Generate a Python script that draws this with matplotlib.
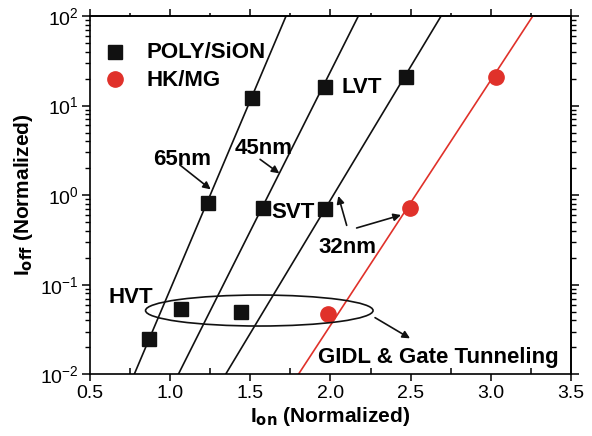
import matplotlib
matplotlib.use("Agg")
import matplotlib.pyplot as plt
from matplotlib.patches import Ellipse
import numpy as np

plt.rcParams['font.family'] = ['Liberation Sans', 'DejaVu Sans']
plt.rcParams['mathtext.default'] = 'regular'

# Measured devices
poly_ion = [0.87, 1.068, 1.44, 1.234, 1.509, 1.581, 1.966, 2.469, 1.966]
poly_ioff = [0.0248, 0.0533, 0.050, 0.81, 12.1, 0.71, 16.0, 21.0, 0.70]
hkmg_ion = [1.983, 2.496, 3.031]
hkmg_ioff = [0.047, 0.71, 20.7]

# Ion-Ioff trend lines (Ion at Ioff = 1e-2 and 1e2)
trend_ioff = [1e-2, 1e2]
trend_65nm = [0.776, 1.723]
trend_45nm = [1.051, 2.174]
trend_32nm = [1.346, 2.690]
trend_hkmg = [1.800, 3.262]

x_ticks = [0.5, 1.0, 1.5, 2.0, 2.5, 3.0, 3.5]
x_tick_labels = ['0.5', '1.0', '1.5', '2.0', '2.5', '3.0', '3.5']

red = '#e0312a'
ink = '#111111'

fig = plt.figure(figsize=(5.92, 4.36), dpi=100)
ax = fig.add_axes([0.152, 0.1415, 0.8125, 0.8218])

for tr in (trend_65nm, trend_45nm, trend_32nm):
    ax.plot(tr, trend_ioff, color=ink, lw=1.2, zorder=2)
ax.plot(trend_hkmg, trend_ioff, color=red, lw=1.2, zorder=2)

ax.plot(poly_ion, poly_ioff, 's', color=ink, ms=9.5, zorder=3)
ax.plot(hkmg_ion, hkmg_ioff, 'o', color=red, ms=11, zorder=3)

ax.set_yscale('log')
ax.set_xlim(0.5, 3.5)
ax.set_ylim(1e-2, 1e2)
ax.set_xticks(x_ticks)
ax.set_xticklabels(x_tick_labels)
ax.set_xticks(np.arange(0.75, 3.5, 0.5), minor=True)

for s in ax.spines.values():
    s.set_linewidth(1.2)

ax.tick_params(axis='x', which='major', direction='out', length=5, width=1.1,
               labelsize=14, pad=3, top=False)
ax.tick_params(axis='x', which='minor', direction='in', length=4, width=1.1, top=False)
ax.tick_params(axis='y', which='major', direction='out', length=6, width=1.1,
               labelsize=14, pad=2, right=False)
ax.tick_params(axis='y', which='minor', direction='out', length=3.5, width=1.0, right=False)

# Mirror ticks on top and right
top = ax.secondary_xaxis('top')
top.set_xticks(x_ticks)
top.set_xticks(np.arange(0.75, 3.5, 0.5), minor=True)
top.tick_params(which='major', direction='out', length=5, width=1.1, labeltop=False)
top.tick_params(which='minor', direction='out', length=2.5, width=1.1)
top.spines['top'].set_linewidth(1.2)

right = ax.secondary_yaxis('right')
right.tick_params(which='major', direction='out', length=6, width=1.1, labelright=False)
right.tick_params(which='minor', direction='out', length=3.5, width=1.0)
right.spines['right'].set_linewidth(1.2)

ax.set_xlabel(r'I$_{\mathbf{on}}$ (Normalized)', fontsize=15, fontweight='bold', labelpad=2)
ax.set_ylabel(r'I$_{\mathbf{off}}$ (Normalized)', fontsize=15, fontweight='bold', labelpad=4)

# Legend
ax.plot([0.052], [0.900], 's', color=ink, ms=9.5, transform=ax.transAxes, clip_on=False)
ax.plot([0.052], [0.824], 'o', color=red, ms=11, transform=ax.transAxes, clip_on=False)
ax.text(0.118, 0.882, 'POLY/SiON', transform=ax.transAxes, fontsize=16,
        fontweight='bold', va='baseline', ha='left')
ax.text(0.118, 0.804, 'HK/MG', transform=ax.transAxes, fontsize=16,
        fontweight='bold', va='baseline', ha='left')

# Annotations
tkw = dict(fontsize=16, fontweight='bold', va='baseline')
ax.text(1.072, 2.17, '65nm', ha='center', **tkw)
ax.text(1.581, 2.88, '45nm', ha='center', **tkw)
ax.text(1.633, 0.551, 'SVT', ha='left', **tkw)
ax.text(2.070, 13.9, 'LVT', ha='left', **tkw)
ax.text(1.924, 0.2276, '32nm', ha='left', **tkw)
ax.text(0.614, 0.062, 'HVT', ha='left', **tkw)
ax.text(1.924, 0.01324, 'GIDL & Gate Tunneling', ha='left', **tkw)

akw = dict(arrowstyle='-|>', lw=1.2, color=ink, mutation_scale=11,
           shrinkA=0, shrinkB=0)
ax.annotate('', xy=(1.253, 1.16), xytext=(1.061, 2.17), arrowprops=akw)
ax.annotate('', xy=(1.681, 1.75), xytext=(1.561, 2.51), arrowprops=akw)
ax.annotate('', xy=(2.049, 0.98), xytext=(2.101, 0.46), arrowprops=akw)
ax.annotate('', xy=(2.440, 0.60), xytext=(2.163, 0.43), arrowprops=akw)
ax.annotate('', xy=(2.496, 0.0252), xytext=(2.278, 0.0429), arrowprops=akw)

# HVT grouping ellipse
ax.add_patch(Ellipse((0.352, 0.178), 0.473, 0.0865, transform=ax.transAxes,
                     fill=False, edgecolor=ink, lw=1.2, zorder=4))

fig.savefig('out.png', dpi=100)
